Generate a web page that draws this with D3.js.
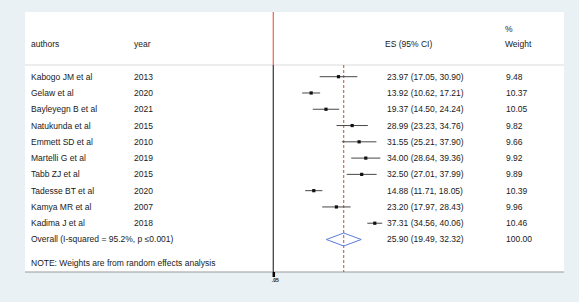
<!DOCTYPE html>
<html><head><meta charset="utf-8">
<script src="https://cdn.jsdelivr.net/npm/d3@7"></script>
<style>
html,body{margin:0;padding:0;background:#e9f1f4;}
svg{display:block;}
text{font-family:"Liberation Sans",Arial,sans-serif;font-size:8.5px;fill:#1a1a1a;}
</style></head>
<body>
<script>
const authors = ["Kabogo  JM et al","Gelaw  et al","Bayleyegn B et al","Natukunda et al","Emmett SD et al","Martelli  G et al","Tabb  ZJ et al","Tadesse  BT et al","Kamya MR et al","Kadima  J et al"];
const years = ["2013","2020","2021","2015","2010","2019","2015","2020","2007","2018"];
const es = [23.97,13.92,19.37,28.99,31.55,34.00,32.50,14.88,23.20,37.31];
const lo = [17.05,10.62,14.50,23.23,25.21,28.64,27.01,11.71,17.97,34.56];
const hi = [30.90,17.21,24.24,34.76,37.90,39.36,37.99,18.05,28.43,40.06];
const weights = ["9.48","10.37","10.05","9.82","9.66","9.92","9.89","10.39","9.96","10.46"];
const overall = {label:"Overall  (I-squared = 95.2%, p \u22640.001)", es:25.90, lo:19.49, hi:32.32, weight:"100.00"};
const note = "NOTE: Weights are from random effects analysis";
const axisTicks = [0];
const axisTickLabels = [".05"];

const W=579,H=302;
const svg=d3.select("body").append("svg").attr("width",W).attr("height",H);
const fmt=d3.format(".2f");

// panel
const panel={x:25,y:12,w:539,h:260};
svg.append("rect").attr("x",panel.x).attr("y",panel.y).attr("width",panel.w).attr("height",panel.h).attr("fill","#fff");

const x=d3.scaleLinear().domain([0,40]).range([273.3,382.1]);
const rowY=d3.scalePoint().domain(d3.range(11)).range([76.7,239.5]);

// header line
svg.append("line").attr("x1",panel.x).attr("x2",panel.x+panel.w).attr("y1",65).attr("y2",65).attr("stroke","#dcdcdc").attr("stroke-width",1.2);
// bottom line
svg.append("line").attr("x1",panel.x).attr("x2",panel.x+panel.w).attr("y1",272).attr("y2",272).attr("stroke","#9a9a9a").attr("stroke-width",1.2);

// null line
svg.append("line").attr("x1",x(0)).attr("x2",x(0)).attr("y1",panel.y).attr("y2",65).attr("stroke","#f26b5b").attr("stroke-width",1.3);
svg.append("line").attr("x1",x(0)).attr("x2",x(0)).attr("y1",65).attr("y2",272).attr("stroke","#444").attr("stroke-width",1.3);

// axis tick
const axis=d3.axisBottom(x).tickValues(axisTicks).tickSize(5).tickFormat((d,i)=>axisTickLabels[i]);
const ag=svg.append("g").attr("transform","translate(0,272)").call(axis);
ag.select(".domain").remove();
ag.selectAll(".tick line").attr("stroke","#000").attr("stroke-width",2.5);
ag.selectAll(".tick text").attr("y",6).attr("dy","0.71em").attr("dx","1.5px")
  .style("font-size","5px").style("font-weight","bold").style("font-family","Liberation Sans,Arial").style("fill","#111");

// overall dashed line
svg.append("line").attr("x1",x(overall.es)).attr("x2",x(overall.es)).attr("y1",65).attr("y2",272).attr("stroke","#c0392b").attr("stroke-width",0.9).attr("stroke-dasharray","3,2");

// headers
svg.append("text").attr("x",31).attr("y",47).text("authors");
svg.append("text").attr("x",134).attr("y",47).text("year");
svg.append("text").attr("x",385).attr("y",47).text("ES (95% CI)");
svg.append("text").attr("x",505).attr("y",32).text("%");
svg.append("text").attr("x",505).attr("y",47).text("Weight");

// rows
authors.forEach((a,i)=>{
  const y=rowY(i);
  const g=svg.append("g");
  g.append("text").attr("x",31).attr("y",y).attr("dy","0.35em").text(a);
  g.append("text").attr("x",134).attr("y",y).attr("dy","0.35em").text(years[i]);
  g.append("text").attr("x",387).attr("y",y).attr("dy","0.35em").text(`${fmt(es[i])} (${fmt(lo[i])}, ${fmt(hi[i])})`);
  g.append("text").attr("x",506).attr("y",y).attr("dy","0.35em").text(weights[i]);
  g.append("line").attr("x1",x(lo[i])).attr("x2",x(hi[i])).attr("y1",y).attr("y2",y).attr("stroke","#333").attr("stroke-width",0.9);
  g.append("rect").attr("x",x(es[i])-1.6).attr("y",y-1.6).attr("width",3.2).attr("height",3.2).attr("fill","#111");
});

// overall
const oy=rowY(10);
svg.append("text").attr("x",31).attr("y",oy).attr("dy","0.35em").text(overall.label);
svg.append("text").attr("x",387).attr("y",oy).attr("dy","0.35em").text(`${fmt(overall.es)} (${fmt(overall.lo)}, ${fmt(overall.hi)})`);
svg.append("text").attr("x",506).attr("y",oy).attr("dy","0.35em").text(overall.weight);
svg.append("path").attr("d",`M${x(overall.lo)},${oy}L${x(overall.es)},${oy-6.5}L${x(overall.hi)},${oy}L${x(overall.es)},${oy+6.5}Z`)
  .attr("fill","none").attr("stroke","#5b7bd8").attr("stroke-width",1);

svg.append("text").attr("x",31).attr("y",263).attr("dy","0.35em").text(note);
</script>
</body></html>
